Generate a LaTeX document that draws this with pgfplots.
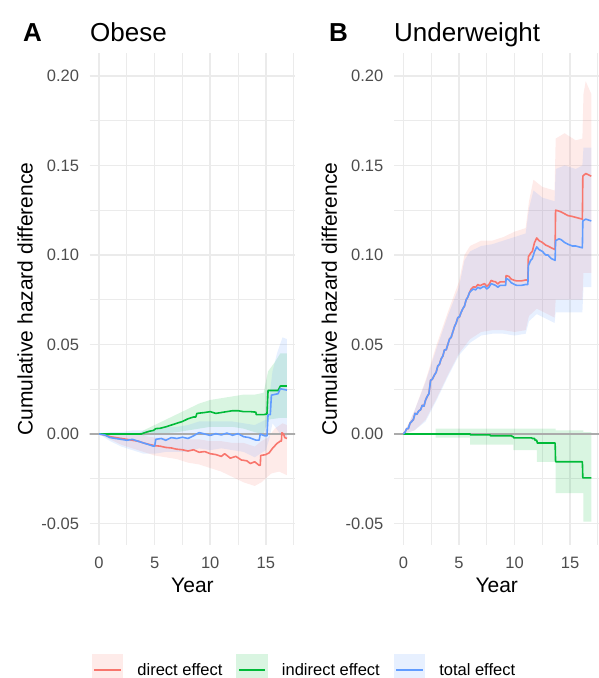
\documentclass[border=0pt]{standalone}
\usepackage{fontspec}
\setmainfont{Liberation Sans}
\usepackage{pgfplots}
\pgfplotsset{compat=1.18}
\definecolor{cR}{HTML}{F8766D}
\definecolor{cG}{HTML}{00BA38}
\definecolor{cB}{HTML}{619CFF}
\definecolor{gridc}{HTML}{EBEBEB}
\definecolor{zeroc}{HTML}{ABABAB}
\definecolor{tickc}{HTML}{4D4D4D}
\pgfplotsset{
  panel/.style={
    scale only axis, width=205.5bp, height=492bp,
    xmin=-0.84, xmax=17.64, ymin=-0.0620, ymax=0.2128,
    axis line style={draw=none}, tick style={draw=none},
    xtick={0,5,10,15}, xticklabels={0,5,10,15},
    ytick={-0.05,0,0.05,0.10,0.15,0.20},
    yticklabels={-0.05,0.00,0.05,0.10,0.15,0.20},
    minor xtick={2.5,7.5,12.5,17.5},
    minor ytick={-0.025,0.025,0.075,0.125,0.175},
    grid=both,
    major grid style={gridc, line width=1.5bp},
    minor grid style={gridc, line width=0.9bp},
    ticklabel style={font=\fontsize{16.5bp}{19bp}\selectfont, text=tickc, inner sep=0pt},
    yticklabel style={anchor=east, xshift=-10.5bp},
    xticklabel style={anchor=north, yshift=-11.5bp},
    label style={font=\fontsize{21bp}{24bp}\selectfont, inner sep=0pt},
    xlabel={Year},
    xlabel style={at={(axis description cs:0.5,-0.0671)}, anchor=north},
    ylabel={Cumulative hazard difference},
    ylabel style={at={(axis description cs:-0.2774,0.5)}, anchor=base, rotate=0},
    clip=true,
  },
  rib/.style={draw=none, fill=#1, fill opacity=0.15, forget plot},
  ln/.style={draw=#1, line width=1.6bp, sharp plot, line join=round, mark=none, forget plot},
  zl/.style={zeroc, line width=1.4bp, forget plot},
}
\begin{document}
\begin{tikzpicture}
\path[use as bounding box] (0,0) rectangle (599bp,-678bp);
% ---------------- Panel A: Obese ----------------
\begin{axis}[panel, at={(89.7bp,-545bp)}, anchor=south west]
\addplot[rib=cR] coordinates {
(0,0) (1,0.0005) (2,0.0005) (3,0) (4,-0.001) (5,-0.002) (6,-0.002) (7,-0.003) (8,-0.003) (9,-0.003) (10,-0.004) (11,-0.004) (12,-0.005) (13,-0.005) (14,-0.007) (14.6,-0.004) (15.2,-0.002) (15.8,0.003) (16.5,0.006) (16.9,0.005)
(16.9,-0.023) (16.2,-0.021) (15.5,-0.022) (14.6,-0.027) (14,-0.029) (13,-0.027) (12,-0.024) (11,-0.021) (10,-0.019) (9,-0.017) (8,-0.016) (7,-0.014) (6,-0.013) (5,-0.012) (4,-0.01) (3,-0.008) (2,-0.006) (1,-0.003) (0,0)} -- cycle;
\addplot[rib=cG] coordinates {
(3.5,0) (4,0.002) (5,0.005) (6,0.008) (7,0.011) (8,0.014) (9,0.017) (10,0.019) (11,0.02) (12,0.021) (13,0.022) (14,0.022) (14.8,0.023) (15.2,0.035) (15.8,0.04) (16.3,0.045) (16.9,0.045)
(16.9,0.009) (16.3,0.009) (15.2,0.008) (14.8,0.0) (14,0.001) (13,0.003) (12,0.004) (11,0.004) (10,0.004) (9,0.003) (8,0.002) (7,0.001) (6,0.0005) (5,0) (4,-0.001) (3.5,0)} -- cycle;
\addplot[rib=cB] coordinates {
(0,0) (1,0.001) (2,0.001) (3,0.002) (4,0.002) (5,0.002) (6,0.004) (7,0.004) (8,0.005) (9,0.007) (10,0.007) (11,0.007) (12,0.007) (13,0.006) (14,0.005) (15,0.008) (15.3,0.02) (15.6,0.035) (16,0.045) (16.5,0.054) (16.9,0.053)
(16.9,-0.002) (16.3,0.0) (15.6,0.006) (15.3,-0.003) (15,-0.009) (14,-0.013) (13,-0.01) (12,-0.009) (11,-0.008) (10,-0.009) (9,-0.008) (8,-0.01) (7,-0.01) (6,-0.01) (5,-0.011) (4,-0.011) (3,-0.009) (2,-0.007) (1,-0.004) (0,0)} -- cycle;
\addplot[zl] coordinates {(-1,0) (18,0)};
\addplot[ln=cR] coordinates {
(0,0) (0.5,-0.0005) (1,-0.0015) (1.5,-0.002) (2,-0.0025) (2.5,-0.003) (3,-0.0035) (3.5,-0.004) (4,-0.005) (4.5,-0.0058) (5,-0.0065) (5.5,-0.0068) (6,-0.0075) (6.5,-0.0078) (7,-0.0085) (7.5,-0.0088) (8,-0.0095) (8.5,-0.0088) (9,-0.0102) (9.5,-0.0098) (10,-0.011) (10.5,-0.0115) (11,-0.0125) (11.3,-0.011) (11.8,-0.0135) (12.3,-0.0125) (12.8,-0.0145) (13.3,-0.015) (13.6,-0.0165) (14,-0.0155) (14.4,-0.0175) (14.5,-0.0175) (14.54,-0.012) (15,-0.0115) (15.3,-0.0105) (15.6,-0.008) (16,-0.0053) (16.3,-0.004) (16.4,-0.004) (16.44,0.0007) (16.6,0.0) (16.7,-0.002) (16.9,-0.0025)};
\addplot[ln=cG] coordinates {
(0,0) (3.8,0) (4,0.0005) (4.5,0.0015) (4.9,0.002) (5.1,0.003) (5.5,0.0032) (6,0.004) (6.5,0.005) (7,0.006) (7.5,0.007) (8,0.0085) (8.5,0.0095) (8.7,0.0095) (8.8,0.0115) (9.5,0.012) (10,0.0125) (10.5,0.0115) (11,0.012) (11.5,0.0125) (12,0.013) (12.5,0.013) (13,0.0125) (13.6,0.0125) (14.1,0.0122) (14.14,0.0108) (14.8,0.0108) (15.1,0.0112) (15.2,0.0243) (16.1,0.0243) (16.3,0.0268) (16.9,0.0268)};
\addplot[ln=cB] coordinates {
(0,0) (0.5,-0.0005) (1,-0.002) (1.5,-0.0025) (2,-0.003) (2.5,-0.0035) (3,-0.003) (3.5,-0.004) (4,-0.005) (4.5,-0.006) (4.9,-0.0068) (5,-0.0068) (5.1,-0.003) (5.6,-0.0025) (6,-0.0035) (6.5,-0.002) (7,-0.0025) (7.5,-0.0018) (8,-0.0025) (8.5,-0.001) (9,0.0008) (9.5,0.0) (10,-0.0008) (10.5,0.0002) (11,-0.0005) (11.5,0.0005) (12,-0.0007) (12.5,0.0002) (13,-0.0015) (13.5,-0.002) (14.1,-0.0034) (14.4,-0.0034) (14.5,0) (14.9,-0.001) (15.1,-0.001) (15.2,0.0108) (15.4,0.0108) (15.5,0.0217) (16.1,0.0225) (16.3,0.0253) (16.9,0.0245)};
\end{axis}
% ---------------- Panel B: Underweight ----------------
\begin{axis}[panel, at={(394bp,-545bp)}, anchor=south west,
  legend columns=3, legend cell align=left,
  legend style={at={(axis description cs:-1.4696,-0.2541)}, anchor=west,
    draw=none, fill=none, inner sep=0pt, outer sep=0pt,
    column sep=14bp, font=\fontsize{16.5bp}{19bp}\selectfont,
    nodes={inner sep=0pt}}]
\addlegendimage{legend image code/.code={\path[draw=none, fill=cR, fill opacity=0.15] (0bp,-16bp) rectangle (31.5bp,16bp); \path[draw=cR, line width=1.2bp] (2.5bp,0bp) -- (29bp,0bp);}}
\addlegendentry{direct effect}
\addlegendimage{legend image code/.code={\path[draw=none, fill=cG, fill opacity=0.15] (0bp,-16bp) rectangle (31.5bp,16bp); \path[draw=cG, line width=1.2bp] (2.5bp,0bp) -- (29bp,0bp);}}
\addlegendentry{indirect effect}
\addlegendimage{legend image code/.code={\path[draw=none, fill=cB, fill opacity=0.15] (0bp,-16bp) rectangle (31.5bp,16bp); \path[draw=cB, line width=1.2bp] (2.5bp,0bp) -- (29bp,0bp);}}
\addlegendentry{total effect}
\addplot[rib=cR] coordinates {
(0,0) (0.5,0.006) (1,0.013) (2,0.03) (3,0.05) (4,0.068) (5,0.085) (5.5,0.1) (6,0.105) (7,0.108) (8,0.108) (9,0.11) (10,0.113) (11,0.115) (11.3,0.13) (11.7,0.142) (12.5,0.138) (13.6,0.136) (13.7,0.165) (14.5,0.168) (15.5,0.164) (16.1,0.165) (16.2,0.19) (16.4,0.197) (16.9,0.19)
(16.9,0.09) (16.2,0.09) (16.1,0.075) (13.7,0.075) (13.6,0.065) (12,0.07) (11.3,0.066) (11,0.058) (10,0.057) (9,0.058) (8,0.058) (7,0.057) (6,0.053) (5,0.045) (4,0.033) (3,0.02) (2,0.008) (1,0.002) (0,0)} -- cycle;
\addplot[rib=cG] coordinates {
(2.9,0.003) (13.7,0.003) (13.7,0.002) (16.2,0.002) (16.2,0.001) (16.9,0.001)
(16.9,-0.049) (16.2,-0.049) (16.2,-0.033) (13.7,-0.033) (13.7,-0.0155) (12,-0.0155) (12,-0.009) (9.9,-0.009) (9.9,-0.006) (6,-0.006) (6,-0.002) (2.9,-0.002)} -- cycle;
\addplot[rib=cB] coordinates {
(0,0) (0.5,0.006) (1,0.013) (2,0.029) (3,0.048) (4,0.066) (5,0.082) (5.5,0.097) (6,0.102) (7,0.105) (8,0.106) (9,0.108) (10,0.11) (11,0.112) (11.3,0.126) (11.7,0.136) (12.5,0.132) (13.6,0.13) (13.7,0.148) (14.5,0.15) (15.5,0.148) (16.1,0.15) (16.2,0.16) (16.9,0.16)
(16.9,0.082) (16.2,0.082) (16.1,0.068) (13.7,0.068) (13.6,0.062) (12,0.067) (11.3,0.063) (11,0.056) (10,0.055) (9,0.056) (8,0.056) (7,0.055) (6,0.051) (5,0.044) (4,0.032) (3,0.019) (2,0.007) (1,0.002) (0,0)} -- cycle;
\addplot[zl] coordinates {(-1,0) (18,0)};
\addplot[ln=cR] coordinates {
(0,0) (0.15,0.001) (0.3,0.003) (0.45,0.003) (0.6,0.006) (0.75,0.007) (0.9,0.008) (1.05,0.0115) (1.2,0.011) (1.4,0.013) (1.55,0.0135) (1.7,0.016) (1.85,0.0155) (2.0,0.019) (2.15,0.021) (2.3,0.0225) (2.45,0.03) (2.6,0.0305) (2.8,0.033) (2.95,0.0345) (3.1,0.038) (3.25,0.039) (3.4,0.042) (3.55,0.0435) (3.7,0.047) (3.85,0.047) (4.0,0.05) (4.15,0.053) (4.3,0.054) (4.45,0.057) (4.6,0.06) (4.75,0.062) (4.9,0.065) (5.05,0.0655) (5.2,0.068) (5.35,0.07) (5.5,0.0715) (5.65,0.075) (5.8,0.0765) (5.95,0.079) (6.1,0.081) (6.3,0.0822) (6.5,0.082) (6.7,0.0835) (6.9,0.0828) (7.1,0.0835) (7.3,0.084) (7.5,0.0825) (7.7,0.0835) (7.9,0.0858) (8.1,0.0852) (8.3,0.085) (8.5,0.0838) (8.7,0.085) (9.0,0.085) (9.2,0.085) (9.24,0.0885) (9.5,0.088) (9.7,0.0865) (10.0,0.0858) (10.2,0.0855) (10.6,0.0855) (11.0,0.086) (11.2,0.086) (11.24,0.099) (11.45,0.101) (11.6,0.102) (11.8,0.107) (12.0,0.1095) (12.2,0.108) (12.5,0.107) (12.8,0.1055) (13.0,0.105) (13.3,0.104) (13.65,0.103) (13.69,0.125) (14.0,0.1245) (14.2,0.124) (14.5,0.123) (14.8,0.122) (15.2,0.1215) (15.5,0.121) (16.1,0.12) (16.14,0.144) (16.4,0.1455) (16.9,0.144)};
\addplot[ln=cG] coordinates {
(0,0) (6,0) (6.04,-0.0005) (7.8,-0.0005) (7.84,-0.001) (9.75,-0.001) (9.79,-0.0015) (9.9,-0.0015) (9.94,-0.0022) (11.55,-0.0022) (11.59,-0.0025) (11.8,-0.0025) (11.84,-0.0035) (12.0,-0.0035) (12.04,-0.005) (13.65,-0.005) (13.69,-0.0155) (16.1,-0.0155) (16.14,-0.0245) (16.9,-0.0245)};
\addplot[ln=cB] coordinates {
(0,0) (0.15,0.001) (0.3,0.003) (0.45,0.003) (0.6,0.006) (0.75,0.007) (0.9,0.008) (1.05,0.0115) (1.2,0.011) (1.4,0.013) (1.55,0.0135) (1.7,0.016) (1.85,0.0155) (2.0,0.019) (2.15,0.021) (2.3,0.0225) (2.45,0.03) (2.6,0.0305) (2.8,0.033) (2.95,0.0345) (3.1,0.038) (3.25,0.039) (3.4,0.042) (3.55,0.0435) (3.7,0.047) (3.85,0.047) (4.0,0.05) (4.15,0.053) (4.3,0.054) (4.45,0.057) (4.6,0.06) (4.75,0.062) (4.9,0.065) (5.05,0.0655) (5.2,0.068) (5.35,0.07) (5.5,0.0715) (5.65,0.075) (5.8,0.0765) (5.95,0.079) (6.1,0.08) (6.3,0.081) (6.5,0.0805) (6.7,0.082) (6.9,0.0812) (7.1,0.082) (7.3,0.0825) (7.5,0.081) (7.7,0.082) (7.9,0.084) (8.1,0.0835) (8.3,0.083) (8.5,0.082) (8.7,0.083) (9.0,0.083) (9.2,0.083) (9.24,0.087) (9.5,0.086) (9.7,0.0845) (10.0,0.0835) (10.2,0.083) (10.6,0.083) (11.0,0.0835) (11.2,0.0835) (11.24,0.094) (11.45,0.097) (11.6,0.098) (11.8,0.102) (12.0,0.1045) (12.2,0.103) (12.5,0.102) (12.8,0.1) (13.0,0.1) (13.3,0.098) (13.65,0.097) (13.69,0.108) (14.0,0.109) (14.2,0.1085) (14.5,0.107) (14.8,0.106) (15.2,0.105) (15.5,0.105) (16.1,0.104) (16.14,0.119) (16.4,0.12) (16.9,0.119)};
\end{axis}
% titles
\node[anchor=base west, inner sep=0pt, font=\bfseries\fontsize{26bp}{30bp}\selectfont] at (23bp,-41bp) {A};
\node[anchor=base west, inner sep=0pt, font=\fontsize{26bp}{30bp}\selectfont] at (90bp,-41bp) {Obese};
\node[anchor=base west, inner sep=0pt, font=\bfseries\fontsize{26bp}{30bp}\selectfont] at (329bp,-41bp) {B};
\node[anchor=base west, inner sep=0pt, font=\fontsize{26bp}{30bp}\selectfont] at (394bp,-41bp) {Underweight};
\end{tikzpicture}
\end{document}
